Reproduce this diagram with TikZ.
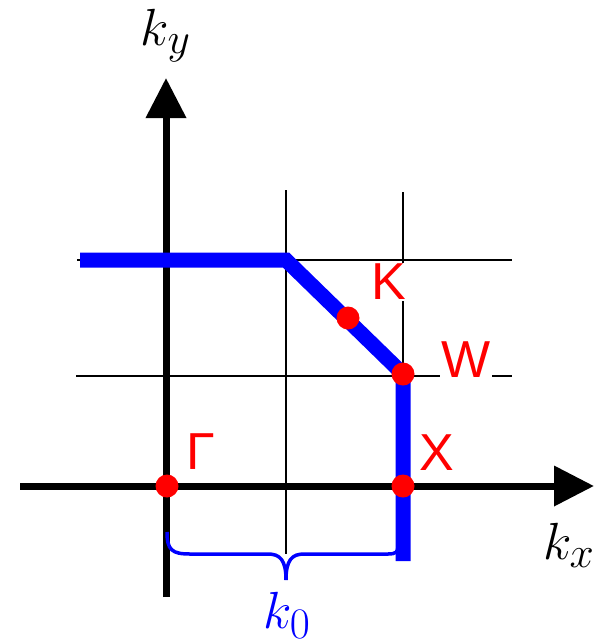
\documentclass[tikz,border=0pt]{standalone}
\usepackage{fontspec}
\newfontfamily\labelfont{Liberation Sans}
\usetikzlibrary{arrows.meta}
\DeclareMathSizes{24}{24}{21}{17}
\begin{document}
\begin{tikzpicture}[x=1pt,y=-1pt,
  axis/.style={line width=7pt,-{Triangle[length=40pt,width=39pt]}},
  gridline/.style={line width=2pt},
  bzpath/.style={blue,line width=15pt,line join=miter},
  dot/.style={circle,fill=red,inner sep=0pt,minimum size=23pt},
  ptlabel/.style={text=red,fill=white,inner sep=1pt,font=\labelfont\fontsize{52}{60}\selectfont},
  mathlabel/.style={inner sep=0pt,font=\fontsize{24}{28}\selectfont,scale=2.1}]
\useasboundingbox (0,0) rectangle (594,641);
% coordinates
\coordinate (xs) at (20,486);
\coordinate (xe) at (594,486);
\coordinate (ys) at (166,597);
\coordinate (ye) at (166,78);
\coordinate (g1t) at (286,190);
\coordinate (g1b) at (286,554);
\coordinate (g2t) at (403,192);
\coordinate (g2b) at (403,554);
\coordinate (h1l) at (77,260);
\coordinate (h1r) at (512,260);
\coordinate (h2l) at (76,376);
\coordinate (h2r) at (512,376);
\coordinate (p0) at (80,260);
\coordinate (p1) at (286,260);
\coordinate (p2) at (403,374);
\coordinate (p3) at (403,561);
% grid
\draw[gridline] (g1t) -- (g1b);
\draw[gridline] (g2t) -- (g2b);
\draw[gridline] (h1l) -- (h1r);
\draw[gridline] (h2l) -- (h2r);
% labels with white background (cover grid)
\node[ptlabel] (lK) at (389,282) {K};
\node[ptlabel] (lW) at (466,360) {W};
\node[ptlabel] (lX) at (437,453) {X};
\node[ptlabel] (lG) at (201,452) {Γ};
% axes
\draw[axis] (xs) -- (xe);
\draw[axis] (ys) -- (ye);
% path
\draw[bzpath] (p0) -- (p1) -- (p2) -- (p3);
% points
\node[dot] (G) at (167,486) {};
\node[dot] (X) at (403,486) {};
\node[dot] (W) at (403,374) {};
\node[dot] (K) at (348,318) {};
% brace
\draw[blue,line width=3.5pt] (167,532) .. controls (167,550) and (172,554) .. (190,554) -- (268,554) .. controls (280,554) and (286,560) .. (286,580) .. controls (286,560) and (292,554) .. (304,554) -- (388,554) .. controls (396,554) and (398,552) .. (398,546);
% axis labels
\node[mathlabel] (ky) at (166,36) {$k_y$};
\node[mathlabel] (kx) at (569,545) {$k_x$};
\node[mathlabel,text=blue] (k0) at (287,615) {$k_0$};
\end{tikzpicture}
\end{document}
